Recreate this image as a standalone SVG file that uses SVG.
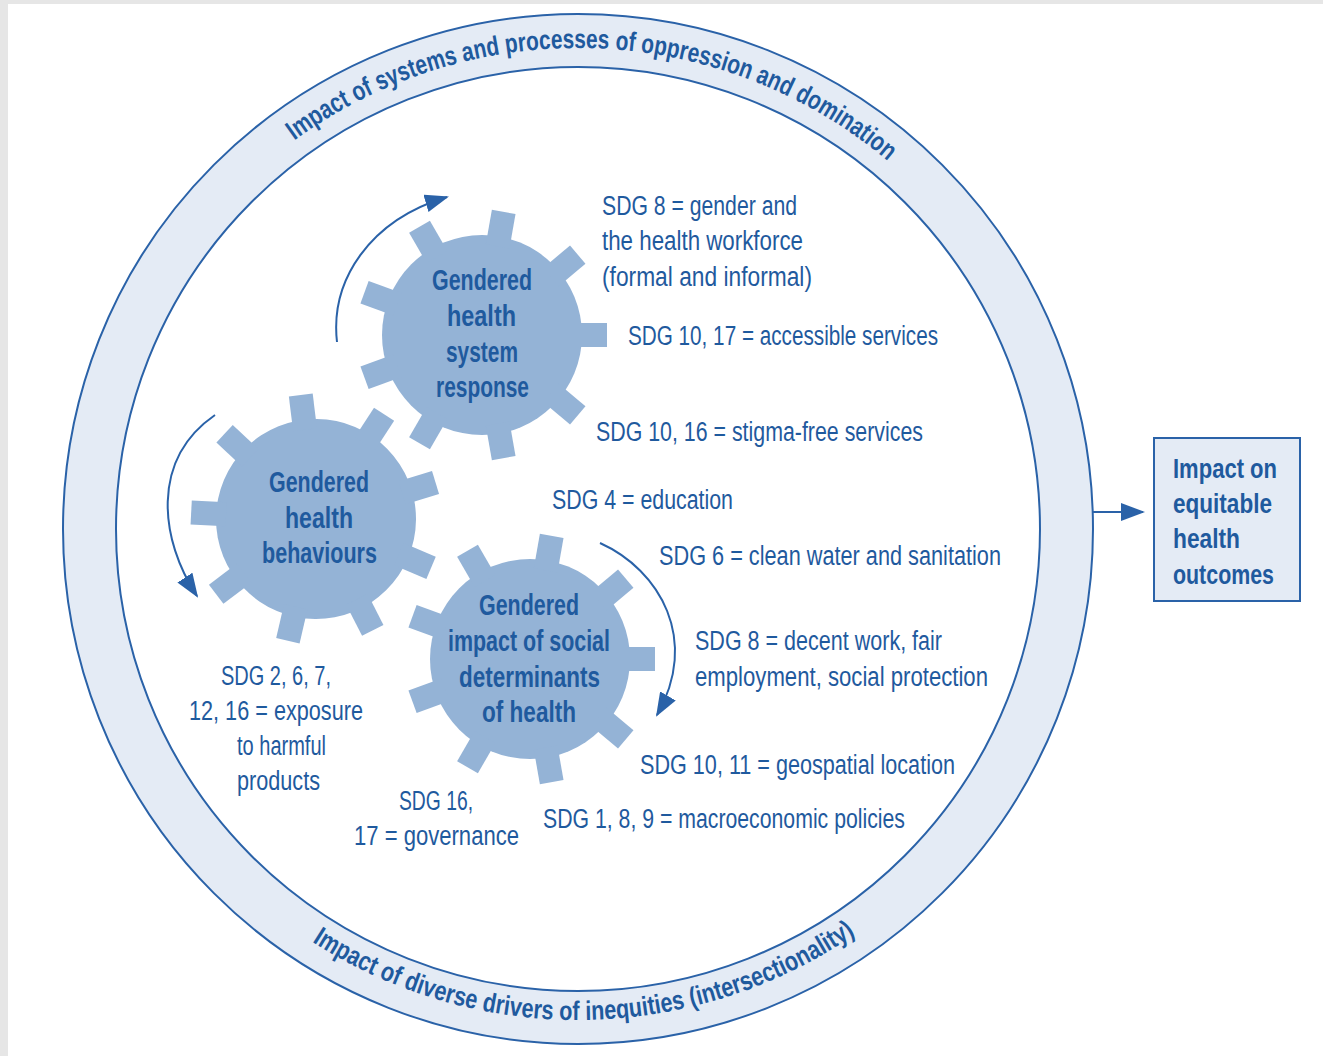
<svg xmlns="http://www.w3.org/2000/svg" xmlns:xlink="http://www.w3.org/1999/xlink" width="1323" height="1056" viewBox="0 0 1323 1056">
<style>
  text { font-family: "Liberation Sans", Arial, sans-serif; fill: #1f5a9e; }
  .gt { font-size: 29px; font-weight: bold; }
  .lbl { font-size: 27px; }
  .ring { font-size: 27px; font-weight: bold; }
  .box { font-size: 28px; font-weight: bold; }
  .conn { fill: none; stroke: #2a62a8; stroke-width: 2; }
  .gear { fill: #94b3d6; }
</style>
<defs>
  <marker id="ah" markerUnits="userSpaceOnUse" markerWidth="24" markerHeight="18" refX="22" refY="9" orient="auto">
    <path d="M0,0 L24,9 L0,18 z" fill="#2a62a8"/>
  </marker>
  <g id="gearShape">
    <circle cx="0" cy="0" r="100"/>
    <rect x="90" y="-12" width="35" height="24" transform="rotate(0)"/>
    <rect x="90" y="-12" width="35" height="24" transform="rotate(40)"/>
    <rect x="90" y="-12" width="35" height="24" transform="rotate(80)"/>
    <rect x="90" y="-12" width="35" height="24" transform="rotate(120)"/>
    <rect x="90" y="-12" width="35" height="24" transform="rotate(160)"/>
    <rect x="90" y="-12" width="35" height="24" transform="rotate(200)"/>
    <rect x="90" y="-12" width="35" height="24" transform="rotate(240)"/>
    <rect x="90" y="-12" width="35" height="24" transform="rotate(280)"/>
    <rect x="90" y="-12" width="35" height="24" transform="rotate(320)"/>
  </g>
  <path id="topArc" d="M97,529 A481,481 0 0 1 1059,529"/>
  <path id="botArc" d="M87,529 A491,491 0 0 0 1069,529"/>
</defs>

<rect x="0" y="0" width="1323" height="1056" fill="#e6e6e6"/>
<rect x="8" y="4" width="1315" height="1052" fill="#ffffff"/>

<g id="ring">
  <circle cx="578" cy="529" r="515" fill="#e4ebf5" stroke="#2a62a8" stroke-width="2"/>
  <circle cx="578" cy="529" r="462" fill="#ffffff" stroke="#2a62a8" stroke-width="2"/>
  <text class="ring"><textPath xlink:href="#topArc" href="#topArc" startOffset="772" text-anchor="middle" textLength="640" lengthAdjust="spacingAndGlyphs">Impact of systems and processes of oppression and domination</textPath></text>
  <text class="ring"><textPath xlink:href="#botArc" href="#botArc" startOffset="778" text-anchor="middle" textLength="576" lengthAdjust="spacingAndGlyphs">Impact of diverse drivers of inequities (intersectionality)</textPath></text>
</g>

<g id="gear-health-system">
  <use href="#gearShape" xlink:href="#gearShape" class="gear" transform="translate(482,335)"/>
  <text class="gt" x="432" y="290" textLength="100" lengthAdjust="spacingAndGlyphs">Gendered</text>
  <text class="gt" x="447" y="326" textLength="69" lengthAdjust="spacingAndGlyphs">health</text>
  <text class="gt" x="446" y="362" textLength="72" lengthAdjust="spacingAndGlyphs">system</text>
  <text class="gt" x="436" y="397" textLength="93" lengthAdjust="spacingAndGlyphs">response</text>
</g>

<g id="gear-behaviours">
  <use href="#gearShape" xlink:href="#gearShape" class="gear" transform="translate(316,519) rotate(23)"/>
  <text class="gt" x="269" y="492" textLength="100" lengthAdjust="spacingAndGlyphs">Gendered</text>
  <text class="gt" x="285" y="528" textLength="68" lengthAdjust="spacingAndGlyphs">health</text>
  <text class="gt" x="262" y="563" textLength="115" lengthAdjust="spacingAndGlyphs">behaviours</text>
</g>

<g id="gear-social-determinants">
  <use href="#gearShape" xlink:href="#gearShape" class="gear" transform="translate(530,659)"/>
  <text class="gt" x="479" y="615" textLength="100" lengthAdjust="spacingAndGlyphs">Gendered</text>
  <text class="gt" x="448" y="651" textLength="162" lengthAdjust="spacingAndGlyphs">impact of social</text>
  <text class="gt" x="459" y="687" textLength="141" lengthAdjust="spacingAndGlyphs">determinants</text>
  <text class="gt" x="482" y="722" textLength="94" lengthAdjust="spacingAndGlyphs">of health</text>
</g>

<g id="outcome-box">
  <rect x="1154" y="438" width="146" height="163" fill="#e4ebf5" stroke="#2a62a8" stroke-width="2"/>
  <text class="box" x="1173" y="478" textLength="104" lengthAdjust="spacingAndGlyphs">Impact on</text>
  <text class="box" x="1173" y="513" textLength="99" lengthAdjust="spacingAndGlyphs">equitable</text>
  <text class="box" x="1173" y="548" textLength="67" lengthAdjust="spacingAndGlyphs">health</text>
  <text class="box" x="1173" y="584" textLength="101" lengthAdjust="spacingAndGlyphs">outcomes</text>
</g>

<g id="labels">
  <text class="lbl" x="602" y="215" textLength="195" lengthAdjust="spacingAndGlyphs">SDG 8 = gender and</text>
  <text class="lbl" x="602" y="250" textLength="201" lengthAdjust="spacingAndGlyphs">the health workforce</text>
  <text class="lbl" x="602" y="286" textLength="210" lengthAdjust="spacingAndGlyphs">(formal and informal)</text>
  <text class="lbl" x="628" y="345" textLength="310" lengthAdjust="spacingAndGlyphs">SDG 10, 17 = accessible services</text>
  <text class="lbl" x="596" y="441" textLength="327" lengthAdjust="spacingAndGlyphs">SDG 10, 16 = stigma-free services</text>
  <text class="lbl" x="552" y="509" textLength="181" lengthAdjust="spacingAndGlyphs">SDG 4 = education</text>
  <text class="lbl" x="659" y="565" textLength="342" lengthAdjust="spacingAndGlyphs">SDG 6 = clean water and sanitation</text>
  <text class="lbl" x="695" y="650" textLength="247" lengthAdjust="spacingAndGlyphs">SDG 8 = decent work, fair</text>
  <text class="lbl" x="695" y="686" textLength="293" lengthAdjust="spacingAndGlyphs">employment, social protection</text>
  <text class="lbl" x="640" y="774" textLength="315" lengthAdjust="spacingAndGlyphs">SDG 10, 11 = geospatial location</text>
  <text class="lbl" x="543" y="828" textLength="362" lengthAdjust="spacingAndGlyphs">SDG 1, 8, 9 = macroeconomic policies</text>
  <text class="lbl" x="399" y="810" textLength="74" lengthAdjust="spacingAndGlyphs">SDG 16,</text>
  <text class="lbl" x="354" y="845" textLength="165" lengthAdjust="spacingAndGlyphs">17 = governance</text>
  <text class="lbl" x="221" y="685" textLength="110" lengthAdjust="spacingAndGlyphs">SDG 2, 6, 7,</text>
  <text class="lbl" x="189" y="720" textLength="174" lengthAdjust="spacingAndGlyphs">12, 16 = exposure</text>
  <text class="lbl" x="237" y="755" textLength="89" lengthAdjust="spacingAndGlyphs">to harmful</text>
  <text class="lbl" x="237" y="790" textLength="83" lengthAdjust="spacingAndGlyphs">products</text>
</g>

<g id="connectors">
  <path class="conn" d="M337,342 C330,280 370,220 447,197" marker-end="url(#ah)"/>
  <path class="conn" d="M215,415 C150,460 160,540 197,596" marker-end="url(#ah)"/>
  <path class="conn" d="M600,543 C660,570 700,640 657,715" marker-end="url(#ah)"/>
  <path class="conn" d="M1093,512 L1143,512" marker-end="url(#ah)"/>
</g>
</svg>
